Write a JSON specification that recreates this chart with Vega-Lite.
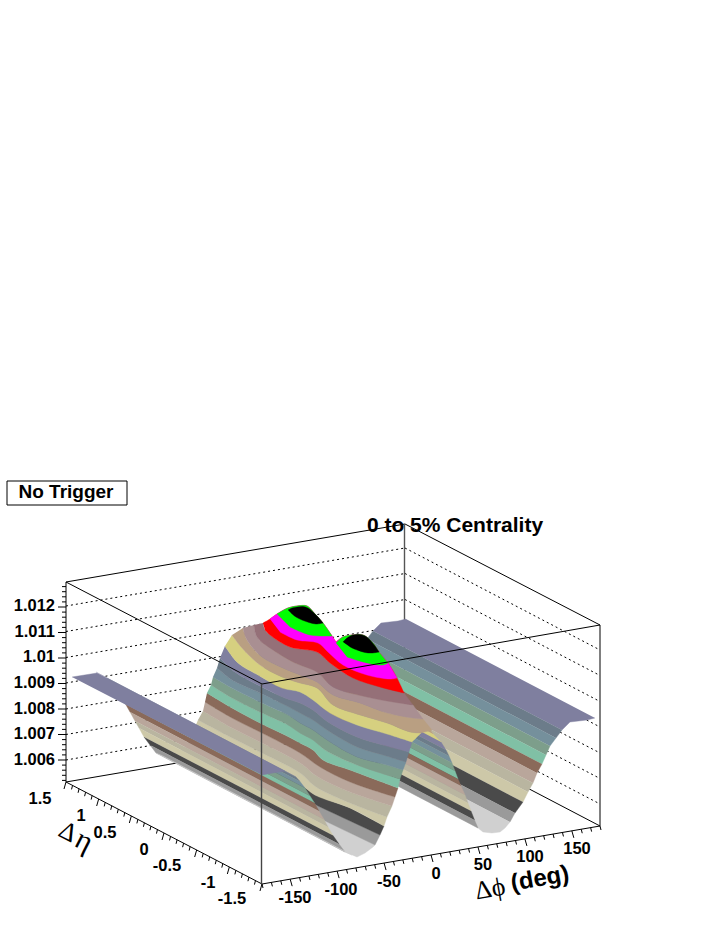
{"$schema":"https://vega.github.io/schema/vega-lite/v6.json","width":720,"height":931,"padding":0,"autosize":{"type":"none"},"background":"white","config":{"view":{"stroke":null},"axis":{"disable":true},"legend":{"disable":true}},
"datasets":{
"grid":[{"x":66,"y":760,"x2":405,"y2":702},{"x":66,"y":734.5,"x2":405,"y2":676.5},{"x":66,"y":709,"x2":405,"y2":651},{"x":66,"y":683,"x2":405,"y2":625},{"x":66,"y":657.5,"x2":405,"y2":599.5},{"x":66,"y":631.5,"x2":405,"y2":573.5},{"x":66,"y":606,"x2":405,"y2":548},{"x":405,"y":702,"x2":600,"y2":804},{"x":405,"y":676.5,"x2":600,"y2":778.5},{"x":405,"y":651,"x2":600,"y2":753},{"x":405,"y":625,"x2":600,"y2":727},{"x":405,"y":599.5,"x2":600,"y2":701.5},{"x":405,"y":573.5,"x2":600,"y2":675.5},{"x":405,"y":548,"x2":600,"y2":650}],
"back":[{"x":66,"y":582,"x2":405,"y2":524},{"x":405,"y":524,"x2":600,"y2":625},{"x":66,"y":782,"x2":405,"y2":724},{"x":405,"y":724,"x2":600,"y2":826}],
"front":[{"x":66,"y":582,"x2":262,"y2":684},{"x":262,"y":684,"x2":600,"y2":625},{"x":66,"y":582,"x2":66,"y2":782},{"x":66,"y":782,"x2":262,"y2":884},{"x":262,"y":884,"x2":600,"y2":826},{"x":600,"y":625,"x2":600,"y2":826}],
"ticks":[
{"a":"z","m":1,"v":[1.006,1.007,1.008,1.009,1.01,1.011,1.012]},
{"a":"z","m":0,"v":[1.0052,1.0054,1.0056,1.0058,1.0062,1.0064,1.0066,1.0068,1.0072,1.0074,1.0076,1.0078,1.0082,1.0084,1.0086,1.0088,1.0092,1.0094,1.0096,1.0098,1.0102,1.0104,1.0106,1.0108,1.0112,1.0114,1.0116,1.0118,1.0122,1.0124,1.0126,1.0128]},
{"a":"phi","m":1,"v":[-150,-100,-50,0,50,100,150]},
{"a":"phi","m":0,"v":[-180,-170,-160,-140,-130,-120,-110,-90,-80,-70,-60,-40,-30,-20,-10,10,20,30,40,60,70,80,90,110,120,130,140,160,170,180]},
{"a":"eta","m":1,"v":[-1.5,-1,-0.5,0,0.5,1,1.5]},
{"a":"eta","m":0,"v":[-1.4,-1.3,-1.2,-1.1,-0.9,-0.8,-0.7,-0.6,-0.4,-0.3,-0.2,-0.1,0.1,0.2,0.3,0.4,0.6,0.7,0.8,0.9,1.1,1.2,1.3,1.4]}
],
"polys":[
{"i":"f00","c":"#7f7f9f","x":[595,587,570,562,373,381,398,406],"y":[718,720,722,730,631,623,621,619]},
{"i":"f01","c":"#6c7c8a","x":[562,556,367,373],"y":[730,738,639,631]},
{"i":"f02","c":"#75909c","x":[556,550,361,367],"y":[738,746,647,639]},
{"i":"f03","c":"#7d9e8b","x":[550,546,357,361],"y":[746,755,656,647]},
{"i":"f04","c":"#80c0a5","x":[546,542,353,357],"y":[755,764,665,656]},
{"i":"f05","c":"#8a6a5a","x":[542,537,348,353],"y":[764,773,674,665]},
{"i":"f06","c":"#b9a69b","x":[537,533,344,348],"y":[773,783,684,674]},
{"i":"f07","c":"#b9b5a0","x":[533,528,339,344],"y":[783,792,693,684]},
{"i":"f08","c":"#cdc8a8","x":[528,523,334,339],"y":[792,802,703,693]},
{"i":"f09","c":"#4a4a4a","x":[523,515,326,334],"y":[802,813,714,703]},
{"i":"f10","c":"#9a9a9a","x":[515,510,321,326],"y":[813,822,723,714]},
{"i":"f11","c":"#d0d0d0","x":[510,505,500,492,483,478,289,294,303,311,316,321],"y":[822,828,832,833,832,828,729,733,734,733,729,723]},
{"i":"a00","c":"#b99f82","x":[430,433,244,241],"y":[730,734,635,631]},
{"i":"a01","c":"#d6d080","x":[433,441,252,244],"y":[734,742,643,635]},
{"i":"a02","c":"#7f7f9f","x":[441,446,257,252],"y":[742,750,651,643]},
{"i":"a03","c":"#6c7c8a","x":[446,449,260,257],"y":[750,756,657,651]},
{"i":"a04","c":"#75909c","x":[449,452,263,260],"y":[756,763,664,657]},
{"i":"a05","c":"#7d9e8b","x":[452,455,266,263],"y":[763,771,672,664]},
{"i":"a06","c":"#80c0a5","x":[455,458,269,266],"y":[771,779,680,672]},
{"i":"a07","c":"#8a6a5a","x":[458,461,272,269],"y":[779,786,687,680]},
{"i":"a08","c":"#b9a69b","x":[461,465,276,272],"y":[786,795,696,687]},
{"i":"a09","c":"#b9b5a0","x":[465,468,279,276],"y":[795,803,704,696]},
{"i":"a10","c":"#cdc8a8","x":[468,471,282,279],"y":[803,811,712,704]},
{"i":"a11","c":"#4a4a4a","x":[471,474.5,285.5,282],"y":[811,820,721,712]},
{"i":"a12","c":"#9a9a9a","x":[474.5,478,289,285.5],"y":[820,828,729,721]},
{"i":"b00","c":"#d0d0d0","x":[186,300,323,375,373,365,357,345,168],"y":[746,808,820,845,847,853,857,852,758]},
{"i":"b01","c":"#9a9a9a","x":[186,300,323,375,380,318,300,191],"y":[746,808,820,845,835,806,795,736]},
{"i":"b02","c":"#4a4a4a","x":[191,300,318,380,384,350,315,300,195],"y":[736,795,806,835,826,808,795,784,727]},
{"i":"n03","c":"#cdc8a8","x":[195,300,315,350,384,384,387,387,350,316,300,262,232,198],"y":[727,784,795,808,826,826,817,817,803,787,773,753,738,720]},
{"i":"n04","c":"#b9b5a0","x":[198,232,262,300,316,350,387,387,392,392,350,318,300,262,232,203],"y":[720,738,753,773,787,803,817,817,806,806,792,777,763,743,728,711]},
{"i":"n05","c":"#b9a69b","x":[203,232,262,300,318,350,392,392,395,395,350,320,300,262,232,205],"y":[711,728,743,763,777,792,806,806,797,797,782,767,753,733,718,702]},
{"i":"n06","c":"#8a6a5a","x":[205,232,262,300,320,350,395,395,398,398,350,323,313,300,285,262,232,207],"y":[702,718,733,753,767,782,797,797,788,788,770,760,750,743,735,724,708,693]},
{"i":"n07","c":"#80c0a5","x":[207,232,262,285,300,313,323,350,398,398,400,400,357,325,313,300,288,262,232,211],"y":[693,708,724,735,743,750,760,770,788,788,779,779,765,750,740,733,725,713,698,685]},
{"i":"n08","c":"#7d9e8b","x":[211,232,262,288,300,313,325,357,400,400,403,403,383,357,327,313,300,288,262,232,213],"y":[685,698,713,725,733,740,750,765,779,779,770,770,764,757,740,730,723,715,703,688,677]},
{"i":"n09","c":"#75909c","x":[213,232,262,288,300,313,327,357,383,403,403,406,406,383,357,327,313,300,285,260,232,217],"y":[677,688,703,715,723,730,740,757,764,770,770,762,762,755,747,730,720,713,705,693,680,668]},
{"i":"n10","c":"#6c7c8a","x":[217,232,260,285,300,313,327,357,383,406,406,409,409,383,357,328,313,300,285,258,235,220],"y":[668,680,693,705,713,720,730,747,755,762,762,752,752,745,737,722,710,703,698,685,672,658]},
{"i":"n11","c":"#7f7f9f","x":[220,235,258,285,300,313,328,357,383,409,409,412,412,387,357,330,313,300,282,258,238,225],"y":[658,672,685,698,703,710,722,737,745,752,752,742,742,734,725,713,700,692,688,675,663,646]},
{"i":"n12","c":"#d6d080","x":[225,238,258,282,300,313,330,357,387,412,412,421,421,410,387,360,333,317,300,282,260,242,232],"y":[646,663,675,688,692,700,713,725,734,742,742,733,733,732,723,715,705,688,683,677,665,648,635]},
{"i":"n13","c":"#b99f82","x":[232,242,260,282,300,317,333,360,387,410,421,421,432,432,423,423,413,387,360,333,317,300,283,262,247,243],"y":[635,648,665,677,683,688,705,715,723,732,733,733,730,730,719,719,718,713,703,695,682,675,668,657,640,628]},
{"i":"n14","c":"#a98f92","x":[243,247,262,283,300,317,333,360,387,413,423,423,413,413,393,367,333,317,300,293,273,257,254],"y":[628,640,657,668,675,682,695,703,713,718,719,719,705,705,702,697,687,672,665,662,650,637,625]},
{"i":"n15","c":"#957078","x":[254,257,273,293,300,317,333,367,393,413,413,404,404,380,353,330,317,290,270,265,263],"y":[625,637,650,662,665,672,687,697,702,705,705,693,693,687,678,663,652,647,635,630,623]},
{"i":"p0","c":"#ff0000","x":[263,270,277,288,297,307,315,323,332,336,336,343,353,363,373,379,388,397,404,404,380,353,330,317,290,270,265],"y":[623,619,614,608,606,606,614,623,636,642,642,637,635,635,643,652,663,678,693,693,687,678,663,652,647,635,630]},
{"i":"p1","c":"#ff00ff","x":[270,277,288,297,307,315,323,332,336,336,343,353,363,373,379,388,397,397,390,367,343,328,318,297,280],"y":[619,614,608,606,606,614,623,636,642,642,637,635,635,643,652,663,678,678,679,675,665,652,643,640,632]},
{"i":"p2","c":"#00ff00","x":[277,288,297,307,315,323,332,332,327,310,290],"y":[614,608,606,606,614,623,636,636,636,635,627]},
{"i":"p3","c":"#000000","x":[288,292,297,303,308,313,318,323,323,316,309,302,296,291],"y":[610,608,607,606.5,608,612,617,623,623,624,622.5,620,617,613]},
{"i":"p4","c":"#00ff00","x":[336,343,353,363,373,379,388,388,383,367,347],"y":[643,637,635,635,643,652,663,663,665,663,657]},
{"i":"p5","c":"#000000","x":[343,347,353,359,365,370,375,379,379,372,365,357,350],"y":[642,638,635,634.5,636,640,646,652,652,653,652.5,650,647]},
{"i":"u00","c":"#7f7f9f","x":[285,296,107,96],"y":[771,777,678,672]},
{"i":"u01","c":"#6c7c8a","x":[296,300,111,107],"y":[777,781.5,683,678]},
{"i":"u02","c":"#75909c","x":[300,305,116,111],"y":[781.5,788,689,683]},
{"i":"u03","c":"#7d9e8b","x":[305,310,121,116],"y":[788,796,697,689]},
{"i":"u04","c":"#80c0a5","x":[310,314.5,125.5,121],"y":[796,803,704,697]},
{"i":"u05","c":"#8a6a5a","x":[314.5,319,130,125.5],"y":[803,811,712,704]},
{"i":"u06","c":"#b9a69b","x":[319,324,135,130],"y":[811,819.5,721,712]},
{"i":"u07","c":"#b9b5a0","x":[324,328,139,135],"y":[819.5,827,728,721]},
{"i":"u08","c":"#cdc8a8","x":[328,333,144,139],"y":[827,835.5,737,728]},
{"i":"u09","c":"#4a4a4a","x":[333,339,150,144],"y":[835.5,844,745,737]},
{"i":"u10","c":"#9a9a9a","x":[339,345,156,150],"y":[844,852,753,745]},
{"i":"u11","c":"#d0d0d0","x":[345,352,163,156],"y":[852,855,756,753]},
{"i":"u12","c":"#7f7f9f","x":[72,97,285,273,262],"y":[677,673,771,773,775]}
],
"zlab":[{"x":55,"y":606,"t":"1.012"},{"x":55,"y":632,"t":"1.011"},{"x":55,"y":657,"t":"1.01"},{"x":55,"y":683,"t":"1.009"},{"x":55,"y":709,"t":"1.008"},{"x":55,"y":734,"t":"1.007"},{"x":55,"y":760,"t":"1.006"}],
"sans":[
{"x":40,"y":799,"t":"1.5","s":16.5,"a":0},{"x":81,"y":816,"t":"1","s":16.5,"a":0},{"x":105,"y":833,"t":"0.5","s":16.5,"a":0},{"x":144,"y":850,"t":"0","s":16.5,"a":0},{"x":167,"y":866,"t":"-0.5","s":16.5,"a":0},{"x":208,"y":883,"t":"-1","s":16.5,"a":0},{"x":232,"y":899,"t":"-1.5","s":16.5,"a":0},
{"x":295,"y":898,"t":"-150","s":16.5,"a":0},{"x":341,"y":890,"t":"-100","s":16.5,"a":0},{"x":389,"y":882,"t":"-50","s":16.5,"a":0},{"x":436,"y":874,"t":"0","s":16.5,"a":0},{"x":483,"y":865,"t":"50","s":16.5,"a":0},{"x":530,"y":857,"t":"100","s":16.5,"a":0},{"x":577,"y":849,"t":"150","s":16.5,"a":0},
{"x":540,"y":879,"t":"(deg)","s":24,"a":-10},{"x":455,"y":526,"t":"0 to 5% Centrality","s":21,"a":0},{"x":66,"y":492,"t":"No Trigger","s":19,"a":0}],
"serif":[{"x":68,"y":832,"t":"Δ","s":26,"a":27},{"x":84,"y":841,"t":"η","s":30,"a":27},{"x":490,"y":889,"t":"Δϕ","s":26,"a":-10}]
},
"encoding":{"x":{"field":"x","type":"quantitative","scale":{"domain":[0,720],"range":[0,720],"nice":false,"zero":false}},"y":{"field":"y","type":"quantitative","scale":{"domain":[0,931],"range":[0,931],"nice":false,"zero":false}}},
"layer":[
{"data":{"name":"grid"},"mark":{"type":"rule","color":"black","strokeWidth":1,"strokeDash":[2,3]},"encoding":{"x2":{"field":"x2"},"y2":{"field":"y2"}}},
{"data":{"name":"back"},"mark":{"type":"rule","color":"black","strokeWidth":1},"encoding":{"x2":{"field":"x2"},"y2":{"field":"y2"}}},
{"data":{"values":[{"x":404.5,"y":524,"x2":404.5,"y2":724}]},"mark":{"type":"rule","color":"#555555","strokeWidth":1.4},"encoding":{"x2":{"field":"x2"},"y2":{"field":"y2"}}},
{"data":{"name":"polys"},"transform":[{"filter":"datum.i[0]=='f'||datum.i[0]=='a'||datum.i[0]=='b'"},{"flatten":["x","y"]}],"mark":{"type":"line","order":null,"strokeWidth":0.4},"encoding":{"fill":{"field":"c","type":"nominal","scale":null},"stroke":{"field":"c","type":"nominal","scale":null},"detail":{"field":"i"}}},
{"data":{"name":"polys"},"transform":[{"filter":"datum.i[0]=='n'||datum.i[0]=='p'"},{"flatten":["x","y"]}],"mark":{"type":"line","order":null,"interpolate":"catmull-rom","strokeWidth":0.4},"encoding":{"fill":{"field":"c","type":"nominal","scale":null},"stroke":{"field":"c","type":"nominal","scale":null},"detail":{"field":"i"}}},
{"data":{"name":"polys"},"transform":[{"filter":"datum.i[0]=='u'"},{"flatten":["x","y"]}],"mark":{"type":"line","order":null,"strokeWidth":0.4},"encoding":{"fill":{"field":"c","type":"nominal","scale":null},"stroke":{"field":"c","type":"nominal","scale":null},"detail":{"field":"i"}}},
{"data":{"name":"front"},"mark":{"type":"rule","color":"black","strokeWidth":1},"encoding":{"x2":{"field":"x2"},"y2":{"field":"y2"}}},
{"data":{"values":[{"x":261.5,"y":684,"x2":261.5,"y2":884}]},"mark":{"type":"rule","color":"#444444","strokeWidth":1.4},"encoding":{"x2":{"field":"x2"},"y2":{"field":"y2"}}},
{"data":{"name":"ticks"},"transform":[{"flatten":["v"]},
{"calculate":"datum.a=='z'?66:datum.a=='phi'?262+(datum.v+180)*0.9389:164-datum.v*65.33","as":"x"},
{"calculate":"datum.a=='z'?760-(datum.v-1.006)*25500:datum.a=='phi'?884-(datum.v+180)*0.1611:833-datum.v*34","as":"y"},
{"calculate":"datum.a=='z'?66-(datum.m?8:4):datum.a=='phi'?datum.x+(datum.m?2:1):datum.x-(datum.m?2:1)","as":"x2"},
{"calculate":"datum.a=='z'?datum.y:datum.y+(datum.m?7:4)","as":"y2"}],
"mark":{"type":"rule","color":"black","strokeWidth":1},"encoding":{"x2":{"field":"x2"},"y2":{"field":"y2"}}},
{"data":{"values":[{"x":7,"y":481,"x2":127,"y2":505}]},"mark":{"type":"rect","fill":"white","stroke":"black","strokeWidth":1},"encoding":{"x2":{"field":"x2"},"y2":{"field":"y2"}}},
{"data":{"name":"zlab"},"mark":{"type":"text","font":"Liberation Sans","fontWeight":"bold","color":"black","baseline":"middle","align":"right","fontSize":16.5},"encoding":{"text":{"field":"t"}}},
{"data":{"name":"sans"},"mark":{"type":"text","font":"Liberation Sans","fontWeight":"bold","color":"black","baseline":"middle","align":"center"},"encoding":{"text":{"field":"t"},"size":{"field":"s","type":"quantitative","scale":null},"angle":{"field":"a","type":"quantitative","scale":null}}},
{"data":{"name":"serif"},"mark":{"type":"text","font":"Liberation Serif","color":"black","baseline":"middle","align":"center"},"encoding":{"text":{"field":"t"},"size":{"field":"s","type":"quantitative","scale":null},"angle":{"field":"a","type":"quantitative","scale":null}}}
]}
